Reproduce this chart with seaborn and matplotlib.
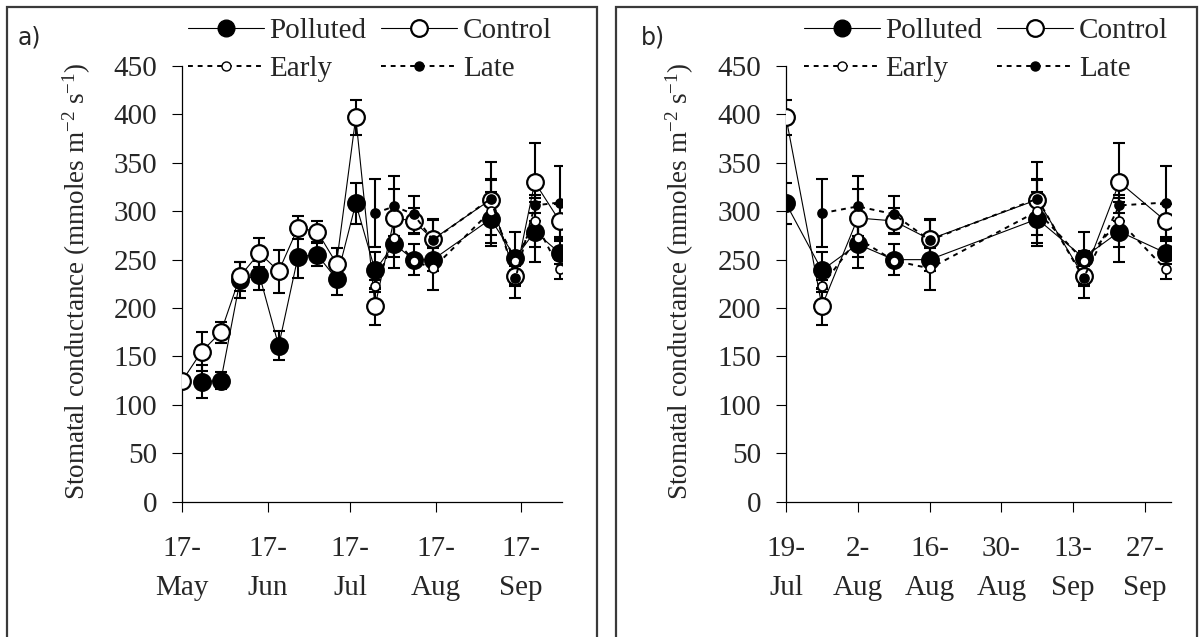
import numpy as np
import pandas as pd
import matplotlib
matplotlib.use('Agg')
import matplotlib.pyplot as plt
from matplotlib.lines import Line2D
from matplotlib.patches import Rectangle
import seaborn as sns

# === Data ===
dates = ['05-17', '05-24', '05-31', '06-07', '06-14', '06-21', '06-28', '07-05', '07-12',
         '07-19', '07-26', '08-02', '08-09', '08-16', '09-06', '09-15', '09-22', '10-01']
polluted = [np.nan, 124, 125, 229, 234, 161, 253, 255, 230,
            308, 239, 266, 250, 250, 292, 252, 279, 257]
polluted_err = [np.nan, 17, 9, 19, 15, 15, 22, 12, 17,
                21, 19, 25, 16, 12, 28, 27, 31, 12]
control = [125, 155, 175, 233, 257, 238, 283, 279, 246,
           397, 202, 293, 290, 271, 312, 233, 330, 290]
control_err = [3, 20, 11, 15, 15, 22, 12, 11, 16,
               18, 19, 30, 13, 20, 20, 10, 40, 17]

late_dates = ['07-26', '08-02', '08-09', '08-16', '09-06', '09-15', '09-22', '10-01']
early = [223, 272, 249, 241, 300, 249, 290, 240]
early_err = [6, 19, 5, 22, 33, 10, 27, 10]
late = [298, 305, 297, 270, 313, 231, 306, 309]
late_err = [35, 31, 19, 22, 38, 21, 8, 38]

ticks_a = ['05-17', '06-17', '07-17', '08-17', '09-17']
ticklabels_a = ['17-\nMay', '17-\nJun', '17-\nJul', '17-\nAug', '17-\nSep']
ticks_b = ['07-19', '08-02', '08-16', '08-30', '09-13', '09-27']
ticklabels_b = ['19-\nJul', '2-\nAug', '16-\nAug', '30-\nAug', '13-\nSep', '27-\nSep']

YEAR = '2000-'


def to_dt(lst):
    return pd.to_datetime([YEAR + d for d in lst])


main = pd.DataFrame({'date': to_dt(dates), 'Polluted': polluted, 'pe': polluted_err,
                     'Control': control, 'ce': control_err})
sub = pd.DataFrame({'date': to_dt(late_dates), 'Early': early, 'ee': early_err,
                    'Late': late, 'le': late_err})

# === Style ===
sns.set_style('ticks')
plt.rcParams['font.family'] = ['Liberation Serif', 'DejaVu Sans']
plt.rcParams['mathtext.fontset'] = 'custom'
plt.rcParams['mathtext.rm'] = 'Liberation Serif'
plt.rcParams['mathtext.it'] = 'Liberation Serif:italic'
FS = 21

BIG = 12
SMALL = 6.5
DOT = (0, (2.5, 2.5))
series = [
    # col, err, filled, size, linestyle, frame
    ('Polluted', 'pe', True, BIG, '-', 'main'),
    ('Control', 'ce', False, BIG, '-', 'main'),
    ('Early', 'ee', False, SMALL, DOT, 'sub'),
    ('Late', 'le', True, SMALL, DOT, 'sub'),
]

fig = plt.figure(figsize=(12.03, 6.37), dpi=100)
W, H = 1203, 637


def draw_panel(left_px, right_px, start, end, ticks, ticklabels, letter, letter_x, leg_x):
    ax = fig.add_axes([left_px / W, 1 - 501.7 / H, (right_px - left_px) / W, (501.7 - 66) / H])
    lo, hi = pd.Timestamp(YEAR + start), pd.Timestamp(YEAR + end)
    for k, (col, ecol, filled, ms, ls, frame) in enumerate(series):
        d = (main if frame == 'main' else sub)[['date', col, ecol]].dropna()
        d = d[(d['date'] >= lo) & (d['date'] <= hi)]
        lw = 0.8 if ls == '-' else 1.4
        ax.errorbar(d['date'], d[col], yerr=d[ecol], fmt='none', ecolor='black',
                    elinewidth=1.5, capsize=4, capthick=1.5, zorder=2 + k)
        sns.lineplot(data=d, x='date', y=col, ax=ax, color='black', linewidth=lw,
                     linestyle=ls, marker='o', markersize=ms,
                     markerfacecolor='black' if filled else 'white',
                     markeredgecolor='black', markeredgewidth=1.6 if ms == BIG else 1.2,
                     legend=False, zorder=10 + k)
    ax.set_xlim(lo, hi)
    ax.set_ylim(0, 450)
    ax.set_yticks(np.arange(0, 451, 50))
    ax.set_xticks(to_dt(ticks))
    ax.set_xticklabels(ticklabels, linespacing=1.62)
    ax.tick_params(axis='both', labelsize=FS, direction='out', length=7, width=0.8,
                   color='black')
    ax.tick_params(axis='y', pad=11)
    ax.tick_params(axis='x', pad=18)
    for s in ['top', 'right']:
        ax.spines[s].set_visible(False)
    for s in ['left', 'bottom']:
        ax.spines[s].set_linewidth(0.9)
        ax.spines[s].set_color('black')
    ax.set_xlabel('')
    ax.set_ylabel('Stomatal conductance (mmoles m$^{-2}$ s$^{-1}$)', fontsize=19.5)
    ax.yaxis.set_label_coords(-0.235, 0.505)

    handles = [
        Line2D([], [], color='black', lw=0.8, marker='o', ms=BIG, mfc='black', mec='black'),
        Line2D([], [], color='black', lw=1.4, ls=DOT, marker='o', ms=SMALL,
               mfc='white', mec='black'),
        Line2D([], [], color='black', lw=0.8, marker='o', ms=BIG, mfc='white', mec='black',
               mew=1.6),
        Line2D([], [], color='black', lw=1.4, ls=DOT, marker='o', ms=SMALL,
               mfc='black', mec='black'),
    ]
    fig.legend(handles, ['Polluted', 'Early', 'Control', 'Late'], ncol=2, frameon=False,
               loc='upper left', bbox_to_anchor=(leg_x / W, 1 - 18 / H), fontsize=FS,
               handlelength=2.6, handletextpad=0.2, columnspacing=0.5, labelspacing=0.38,
               borderpad=0, borderaxespad=0)
    fig.text(letter_x / W, 1 - 37 / H, letter, family='DejaVu Sans', fontsize=17,
             va='center', ha='left')
    return ax


draw_panel(182.3, 562.3, '05-17', '10-02', ticks_a, ticklabels_a, 'a)', 18, 188)
draw_panel(786, 1170.7, '07-19', '10-02', ticks_b, ticklabels_b, 'b)', 641, 804)

# panel frames (bottom edge is cut off in the reference)
for x0, x1 in [(7, 597), (616, 1197)]:
    fig.add_artist(Rectangle((x0 / W, -0.1), (x1 - x0) / W, 1.1 - 7 / H,
                             transform=fig.transFigure, fill=False,
                             edgecolor='#3a3a3a', linewidth=1.6))

fig.savefig('out.png', dpi=100)
